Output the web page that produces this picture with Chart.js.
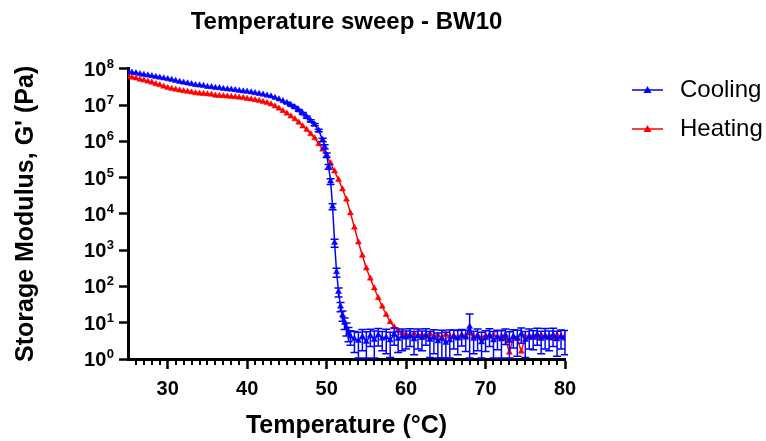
<!DOCTYPE html>
<html><head><meta charset="utf-8">
<script src="https://cdn.jsdelivr.net/npm/chart.js@4.4.1/dist/chart.umd.min.js"></script>
<style>html,body{margin:0;padding:0;background:#fff;}#wrap{width:766px;height:441px;}</style>
</head><body><div id="wrap"><canvas id="c" width="766" height="441"></canvas></div>
<script>
// ---- data ----
const coolT = [25,25.5,26,26.5,27,27.5,28,28.5,29,29.5,30,30.5,31,31.5,32,32.5,33,33.5,34,34.5,35,35.5,36,36.5,37,37.5,38,38.5,39,39.5,40,40.5,41,41.5,42,42.5,43,43.5,44,44.5,45,45.5,46,46.5,47,47.5,48,48.5,49,
  49.5,49.75,50,50.25,50.5,50.75,51,51.25,51.5,51.75,52,52.25,52.5,52.75,53,
  53.5,54,54.5,55,55.5,56,56.5,57,57.5,58,58.5,59,59.5,60,60.5,61,61.5,62,62.5,63,63.5,64,64.5,65,65.5,66,66.5,67,67.5,68,68.5,69,69.5,70,70.5,71,71.5,72,72.5,73,73.5,74,74.5,75,75.5,76,76.5,77,77.5,78,78.5,79,79.5,80];
const coolG = [8.3e7,7.9e7,7.6e7,7.2e7,6.9e7,6.6e7,6.3e7,6.0e7,5.75e7,5.5e7,5.25e7,5.0e7,4.7e7,4.4e7,4.2e7,4.0e7,3.8e7,3.6e7,3.5e7,3.4e7,3.2e7,3.15e7,3.0e7,2.95e7,2.8e7,2.75e7,2.7e7,2.6e7,2.5e7,2.4e7,2.35e7,2.25e7,2.15e7,2.05e7,1.95e7,1.85e7,1.75e7,1.6e7,1.45e7,1.3e7,1.15e7,1.0e7,8.7e6,7.2e6,5.9e6,4.7e6,3.7e6,2.9e6,2.0e6,
  1.1e6,7.1e5,4.2e5,2.0e5,7.9e4,1.6e4,1.6e3,250,71,28,16,10,7.1,5.2,4.2,
  3.6,3.2,4.1,3.0,4.4,3.4,4.6,3.7,4.0,3.3,4.8,3.6,4.2,3.9,4.5,3.5,4.3,3.8,4.6,3.4,3.9,3.1,3.6,2.8,3.3,4.1,3.7,4.4,3.9,7.8,3.6,4.2,2.9,3.8,4.5,3.3,4.0,3.5,4.6,3.2,4.2,3.7,4.9,3.4,4.3,3.9,4.7,3.6,4.4,3.8,4.6,3.5,4.1,3.7];
const coolErr = [0,0,0,0,0,0,0,0,0,0,0,0,0,0,0,0,0,0,0,0,0,0,0,0,0,0,0,0,0,0,0,0,0,0,0,0,0,0,0,0,
  4e5,4e5,4e5,4e5,3.5e5,3e5,2.5e5,2e5,1.6e5,
  1.2e5,9e4,6e4,3e4,1.4e4,3e3,4e2,70,20,8,5,3.5,2.8,2.2,1.8,
  2.1,2.3,2.4,2.6,2.2,2.5,2.3,2.0,2.6,2.2,2.4,2.1,2.5,2.0,2.3,2.2,2.4,2.1,2.2,2.3,2.5,2.1,2.6,2.7,3.0,2.2,2.4,2.1,2.3,9.5,2.2,2.5,2.6,2.2,2.3,2.4,2.2,2.5,2.1,2.4,2.2,2.5,2.2,2.3,2.4,2.1,2.3,2.2,2.5,2.1,2.4,2.3,2.2,2.4];
const heatT = [25,25.5,26,26.5,27,27.5,28,28.5,29,29.5,30,30.5,31,31.5,32,32.5,33,33.5,34,34.5,35,35.5,36,36.5,37,37.5,38,38.5,39,39.5,40,40.5,41,41.5,42,42.5,43,43.5,44,44.5,45,45.5,46,46.5,47,47.5,48,48.5,49,49.5,50,50.5,51,51.5,52,52.5,53,53.5,54,54.5,55,55.5,56,56.5,57,57.5,58,58.5,59,59.5,60,60.5,61,61.5,62,62.5,63,63.5,64,64.5,65,65.5,66,66.5,67,67.5,68,68.5,69,69.5,70,70.5,71,71.5,72,72.5,73,73.5,74,74.5,75,75.5,76,76.5,77,77.5,78,78.5,79,79.5,80];
const heatG = [6.0e7,5.75e7,5.5e7,5.1e7,4.8e7,4.5e7,4.2e7,3.8e7,3.55e7,3.25e7,3.0e7,2.8e7,2.7e7,2.55e7,2.45e7,2.35e7,2.25e7,2.15e7,2.1e7,2.05e7,2.0e7,1.95e7,1.85e7,1.8e7,1.78e7,1.74e7,1.7e7,1.66e7,1.62e7,1.58e7,1.5e7,1.45e7,1.38e7,1.32e7,1.23e7,1.15e7,1.05e7,9.3e6,8.1e6,6.9e6,5.9e6,4.9e6,4.1e6,3.3e6,2.6e6,2.1e6,1.6e6,1.23e6,8.5e5,6.0e5,4.0e5,2.5e5,1.5e5,8.7e4,4.8e4,2.5e4,1.05e4,4.2e3,1.65e3,710,316,166,89,48,28,16.6,10.5,7.6,6.0,5.2,
  4.8,4.2,5.0,4.4,4.6,4.1,4.9,4.3,4.5,3.9,4.7,4.2,4.4,4.0,4.6,4.3,5.1,4.2,4.5,3.8,4.4,4.1,4.6,3.9,4.3,3.7,1.5,4.0,3.6,1.6,4.2,3.8,4.4,3.9,4.5,4.0,4.3,3.7,4.6,4.1,4.4];
const seriesNames = ['Cooling','Heating'];
const xTickVals = [30,40,50,60,70,80];
const yTickVals = [1,10,100,1e3,1e4,1e5,1e6,1e7,1e8];
const yTickBase = '10';
const yTickExp = ['0','1','2','3','4','5','6','7','8'];
const chartTitle = 'Temperature sweep - BW10';
const xTitle = 'Temperature (\u00B0C)';
const yTitle = "Storage Modulus, G' (Pa)";

// ---- style ----
const FONT = "'Liberation Sans', Arial, sans-serif";
const COLORS = ['#0000FF', '#FF0000'];

function legendGlyph(color) {
  const c = document.createElement('canvas'); c.width = 88; c.height = 12;
  const g = c.getContext('2d');
  g.strokeStyle = color; g.lineWidth = 1.5;
  g.beginPath(); g.moveTo(52, 6); g.lineTo(83, 6); g.stroke();
  g.fillStyle = color;
  g.beginPath(); g.moveTo(67.5, 2); g.lineTo(71.5, 9); g.lineTo(63.5, 9); g.closePath(); g.fill();
  return c;
}
const glyphs = COLORS.map(legendGlyph);

const errorBars = {
  id: 'errorBars',
  afterDatasetsDraw(chart) {
    const ctx = chart.ctx, xs = chart.scales.x, ys = chart.scales.y, a = chart.chartArea;
    ctx.save();
    ctx.beginPath(); ctx.rect(a.left, a.top - 3, a.right - a.left + 3, a.bottom - a.top + 3); ctx.clip();
    ctx.strokeStyle = COLORS[0]; ctx.lineWidth = 1.5;
    coolT.forEach((t, i) => {
      const e = coolErr[i]; if (!e) return;
      const v = coolG[i];
      const px = xs.getPixelForValue(t);
      const pTop = ys.getPixelForValue(v + e);
      const lo = v - e;
      const pBot = lo > 1 ? ys.getPixelForValue(lo) : a.bottom - 1;
      ctx.beginPath();
      ctx.moveTo(px, pTop); ctx.lineTo(px, pBot);
      ctx.moveTo(px - 4, pTop); ctx.lineTo(px + 4, pTop);
      ctx.moveTo(px - 4, pBot); ctx.lineTo(px + 4, pBot);
      ctx.stroke();
    });
    ctx.restore();
  }
};
const axisExtras = {
  id: 'axisExtras',
  afterDraw(chart) {
    const xs = chart.scales.x, ys = chart.scales.y, ctx = chart.ctx;
    ctx.save();
    const y0 = xs.top;
    ctx.strokeStyle = '#000'; ctx.lineWidth = 2;
    for (let t = xs.min + 1; t < xs.max; t += 1) {
      if (xTickVals.includes(t)) continue;
      const px = Math.round(xs.getPixelForValue(t));
      ctx.beginPath(); ctx.moveTo(px, y0); ctx.lineTo(px, y0 + 6); ctx.stroke();
    }
    ctx.fillStyle = '#000'; ctx.textBaseline = 'alphabetic';
    const right = ys.right - 14;
    yTickVals.forEach((v, i) => {
      const py = ys.getPixelForValue(v);
      ctx.font = `bold 13px ${FONT}`;
      const ew = ctx.measureText(yTickExp[i]).width;
      ctx.textAlign = 'left';
      ctx.fillText(yTickExp[i], right - ew, py - 1);
      ctx.font = `bold 20px ${FONT}`;
      ctx.textAlign = 'right';
      ctx.fillText(yTickBase, right - ew - 0.5, py + 7);
    });
    ctx.restore();
  }
};

new Chart(document.getElementById('c'), {
  type: 'line',
  data: {
    datasets: [
      { label: seriesNames[0], data: coolT.map((t, i) => ({x: t, y: coolG[i]})),
        borderColor: COLORS[0], backgroundColor: COLORS[0], borderWidth: 1.5,
        pointStyle: 'triangle', pointRadius: 3.5, pointBorderWidth: 0.5, pointBackgroundColor: COLORS[0], pointBorderColor: COLORS[0], tension: 0 },
      { label: seriesNames[1], data: heatT.map((t, i) => ({x: t, y: heatG[i]})),
        borderColor: COLORS[1], backgroundColor: COLORS[1], borderWidth: 1.5,
        pointStyle: 'triangle', pointRadius: 3.5, pointBorderWidth: 0.5, pointBackgroundColor: COLORS[1], pointBorderColor: COLORS[1], tension: 0 }
    ]
  },
  options: {
    responsive: false, animation: false, devicePixelRatio: 1,
    layout: { padding: 0 },
    plugins: {
      title: { display: true, text: chartTitle, fullSize: false, color: '#000',
        font: { family: FONT, size: 24, weight: 'bold' }, padding: { top: 8, bottom: 32 } },
      legend: { position: 'right', align: 'start', fullSize: true, maxWidth: 201,
        title: { display: true, text: ' ', font: { size: 10, lineHeight: 1 }, padding: { top: 53, bottom: 0 } },
        labels: { usePointStyle: true, pointStyleWidth: 88, boxHeight: 12, padding: 15, color: '#000',
          font: { family: FONT, size: 24 },
          generateLabels: () => seriesNames.map((n, i) => ({
            text: n, pointStyle: glyphs[i], fillStyle: COLORS[i], strokeStyle: COLORS[i],
            lineWidth: 0, hidden: false, datasetIndex: i, fontColor: '#000'
          })) } },
      tooltip: { enabled: false }
    },
    scales: {
      x: { type: 'linear', min: 25, max: 80,
        afterBuildTicks: s => { s.ticks = xTickVals.map(v => ({ value: v })); },
        afterFit: s => { s.height = 82; },
        ticks: { color: '#000', font: { family: FONT, size: 20, weight: 'bold' }, padding: 8, maxRotation: 0, autoSkip: false },
        grid: { drawOnChartArea: false, drawTicks: true, tickLength: 10, tickWidth: 2.5, tickColor: '#000' },
        border: { display: true, color: '#000', width: 3 },
        title: { display: true, text: xTitle, color: '#000', font: { family: FONT, size: 25, weight: 'bold' }, padding: { top: 0, bottom: 0 } } },
      y: { type: 'logarithmic', min: 1, max: 1e8,
        afterBuildTicks: s => { s.ticks = yTickVals.map(v => ({ value: v })); },
        afterFit: s => { s.width = 128; },
        ticks: { display: false },
        grid: { drawOnChartArea: false, drawTicks: true, tickLength: 9, tickWidth: 2.5, tickColor: '#000' },
        border: { display: true, color: '#000', width: 3 },
        title: { display: true, text: yTitle, color: '#000', font: { family: FONT, size: 25, weight: 'bold' }, padding: { top: 11, bottom: 0 } } }
    }
  },
  plugins: [errorBars, axisExtras]
});
</script>
</body></html>
